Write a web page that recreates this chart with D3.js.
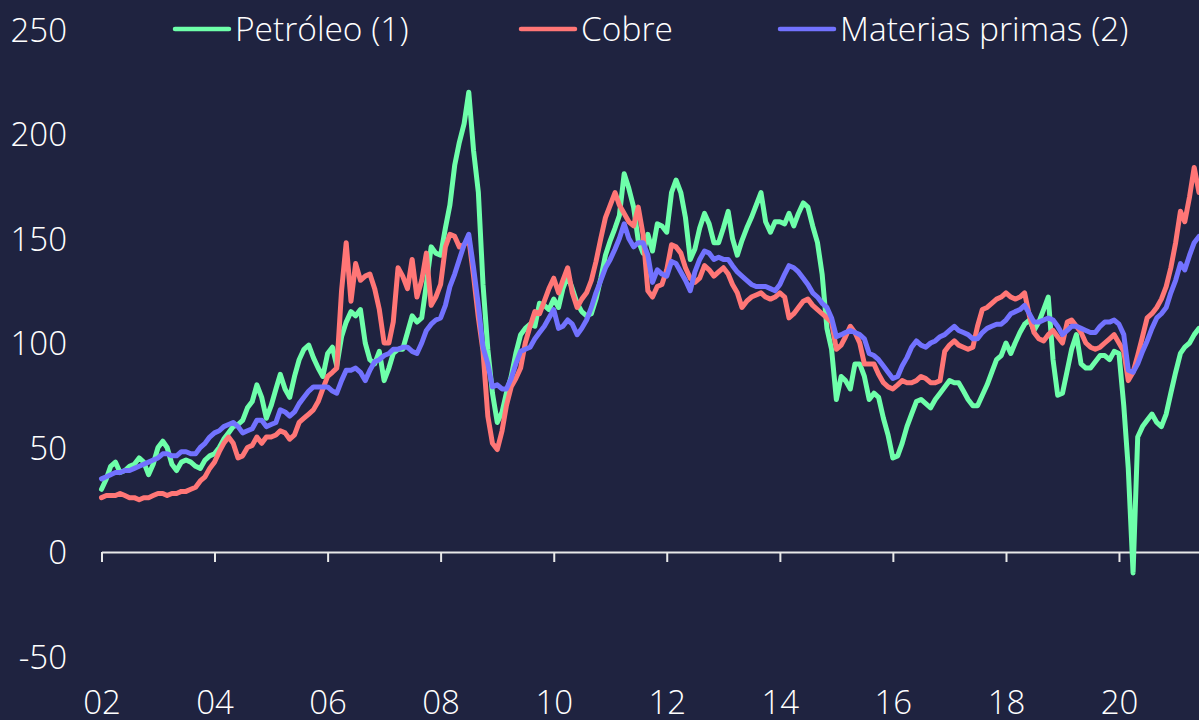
<!DOCTYPE html>
<html>
<head>
<meta charset="utf-8">
<script src="https://cdn.jsdelivr.net/npm/d3@7"></script>
<style>
  html, body { margin: 0; padding: 0; background: #1f2340; overflow: hidden; }
  svg text { font-family: "Open Sans", sans-serif; font-weight: 300; fill: #ffffff; }
</style>
</head>
<body>
<svg id="chart" width="1199" height="720"></svg>
<script>
// monthly observations, Jan 2002 .. Jun 2021
const months = d3.timeMonth.range(new Date(2002, 0, 1), new Date(2021, 6, 1));

const petroleo = [
  30,35,41,43,38,39,41,42,45,43,37,42,
  50,53,50,42,39,43,44,43,41,40,44,46,
  47,50,54,57,60,61,63,69,72,80,74,64,
  70,78,85,78,74,84,92,97,99,93,88,84,
  95,98,89,103,110,115,113,116,100,92,90,96,
  82,88,95,97,97,105,113,110,112,128,146,143,
  142,155,166,185,196,205,220,192,172,128,97,76,
  62,67,76,84,95,104,107,109,108,119,118,116,
  121,117,126,132,126,119,115,113,114,121,131,142,
  149,155,161,181,174,165,149,143,152,144,157,156,
  153,172,178,172,160,140,145,155,162,157,148,148,
  155,163,150,142,149,155,160,166,172,158,153,158,
  158,157,162,156,162,167,165,156,148,133,107,97,
  73,84,82,78,90,90,84,73,76,74,64,56,
  45,46,52,60,66,72,73,71,69,73,76,79,
  82,81,81,77,73,70,70,75,80,86,92,94,
  100,95,100,105,109,111,106,110,116,122,92,75,
  76,87,97,104,90,88,88,91,94,94,92,96,
  95,70,40,-10,55,60,63,66,62,60,66,76,
  86,95,98,100,104,107
];

const cobre = [
  26,27,27,27,28,27,26,26,25,26,26,27,
  28,28,27,28,28,29,29,30,31,34,36,40,
  43,48,52,55,52,45,46,50,51,55,52,55,
  55,56,58,57,54,56,62,64,66,68,72,78,
  84,86,88,125,148,120,138,130,132,133,126,116,
  100,100,110,136,132,126,140,122,130,143,118,122,
  128,146,152,151,146,147,150,132,112,96,65,52,
  49,58,70,79,83,88,100,108,115,114,120,126,
  131,124,130,136,124,117,121,124,130,139,150,160,
  166,172,166,162,158,156,165,152,125,122,127,128,
  135,147,146,143,136,131,129,131,137,135,132,134,
  136,133,128,124,117,120,122,123,124,122,121,122,
  124,122,112,114,117,120,121,118,116,114,112,110,
  97,99,103,108,105,100,90,90,90,85,81,79,
  78,80,82,81,81,82,84,83,81,81,82,96,
  99,101,99,98,97,98,108,116,117,119,121,122,
  124,122,121,122,124,113,105,102,101,104,106,103,
  100,110,111,108,105,100,98,97,98,100,102,104,
  100,96,82,86,94,103,112,114,117,121,127,136,
  148,163,158,170,184,172
];

const materiasPrimas = [
  35,36,37,38,38,39,39,40,41,42,43,44,
  45,47,47,46,46,48,48,47,47,50,52,55,
  57,58,60,61,62,60,57,58,59,63,63,60,
  61,62,68,67,65,67,71,74,77,79,79,79,
  79,77,76,82,87,87,88,86,82,87,91,92,
  94,95,97,97,98,98,96,95,100,106,109,111,
  112,118,127,133,140,147,152,136,118,98,90,79,
  80,78,78,83,90,96,97,98,102,105,108,112,
  116,107,108,111,109,104,107,111,117,124,130,136,
  140,145,150,157,150,146,148,148,142,129,135,133,
  132,139,138,134,130,125,134,140,144,143,140,141,
  140,140,137,134,132,130,128,127,127,127,126,125,
  128,133,137,136,134,131,128,124,122,119,117,112,
  103,104,105,106,105,104,102,95,94,92,89,86,
  83,84,89,93,98,101,99,98,100,101,103,104,
  106,108,106,105,104,102,102,105,107,108,109,109,
  111,114,115,116,118,114,110,110,111,112,111,108,
  104,106,108,108,107,106,105,105,108,110,110,111,
  109,104,87,86,90,96,101,107,112,114,117,124,
  130,138,135,142,148,151
];

const seriesNames = ["Petróleo (1)", "Cobre", "Materias primas (2)"];
const seriesColors = ["#6effaa", "#ff7676", "#7272ff"];
const yTicks = [-50, 0, 50, 100, 150, 200, 250];
const xTickYears = [2002, 2004, 2006, 2008, 2010, 2012, 2014, 2016, 2018, 2020];

const plot = { left: 101.5, right: 1199, top: 29.5, bottom: 656.5 };

const svg = d3.select("#chart");

const xScale = d3.scaleTime()
  .domain([months[0], months[months.length - 1]])
  .range([plot.left, plot.right]);

const yScale = d3.scaleLinear()
  .domain([-50, 250])
  .range([plot.bottom, plot.top]);

// y labels only, plain hyphen for negatives
const yAxis = d3.axisLeft(yScale)
  .tickValues(yTicks)
  .tickFormat(d => String(d))
  .tickSize(0)
  .tickPadding(0);

svg.append("g")
  .attr("class", "y-axis")
  .attr("transform", "translate(67,0)")
  .call(yAxis)
  .call(g => g.select(".domain").remove())
  .selectAll("text")
  .attr("font-family", null)
  .attr("font-size", null)
  .style("font-size", "33px")
  .attr("x", 0)
  .attr("dy", "0.36em");

// x axis sits on zero
const xAxis = d3.axisBottom(xScale)
  .tickValues(xTickYears.map(y => new Date(y, 0, 1)))
  .tickFormat(d3.timeFormat("%y"))
  .tickSize(10)
  .tickSizeOuter(0);

const xg = svg.append("g")
  .attr("class", "x-axis")
  .attr("transform", `translate(0,${yScale(0)})`)
  .call(xAxis);

xg.select(".domain").attr("stroke", "#e8e8e8").attr("stroke-width", 2);
xg.selectAll(".tick line").attr("stroke", "#e8e8e8").attr("stroke-width", 2);
xg.selectAll("text")
  .attr("font-family", null)
  .attr("font-size", null)
  .style("font-size", "33px")
  .attr("y", 714 - yScale(0))
  .attr("dy", 0);

// series
const series = [petroleo, cobre, materiasPrimas];

const line = d3.line()
  .x((d, i) => xScale(months[i]))
  .y(d => yScale(d));

svg.append("g")
  .selectAll("path")
  .data(series)
  .join("path")
  .attr("d", d => line(d))
  .attr("fill", "none")
  .attr("stroke", (d, i) => seriesColors[i])
  .attr("stroke-width", 5)
  .attr("stroke-linejoin", "round")
  .attr("stroke-linecap", "round");

// legend
const legendX = [175, 521, 780];
const legend = svg.append("g").attr("class", "legend");

const item = legend.selectAll("g")
  .data(seriesNames)
  .join("g")
  .attr("transform", (d, i) => `translate(${legendX[i]},29)`);

item.append("line")
  .attr("x1", 0).attr("x2", 54)
  .attr("y1", 0).attr("y2", 0)
  .attr("stroke", (d, i) => seriesColors[i])
  .attr("stroke-width", 4.5)
  .attr("stroke-linecap", "round");

item.append("text")
  .attr("x", 60)
  .attr("y", 12)
  .style("font-size", "33.5px")
  .text(d => d);
</script>
</body>
</html>
